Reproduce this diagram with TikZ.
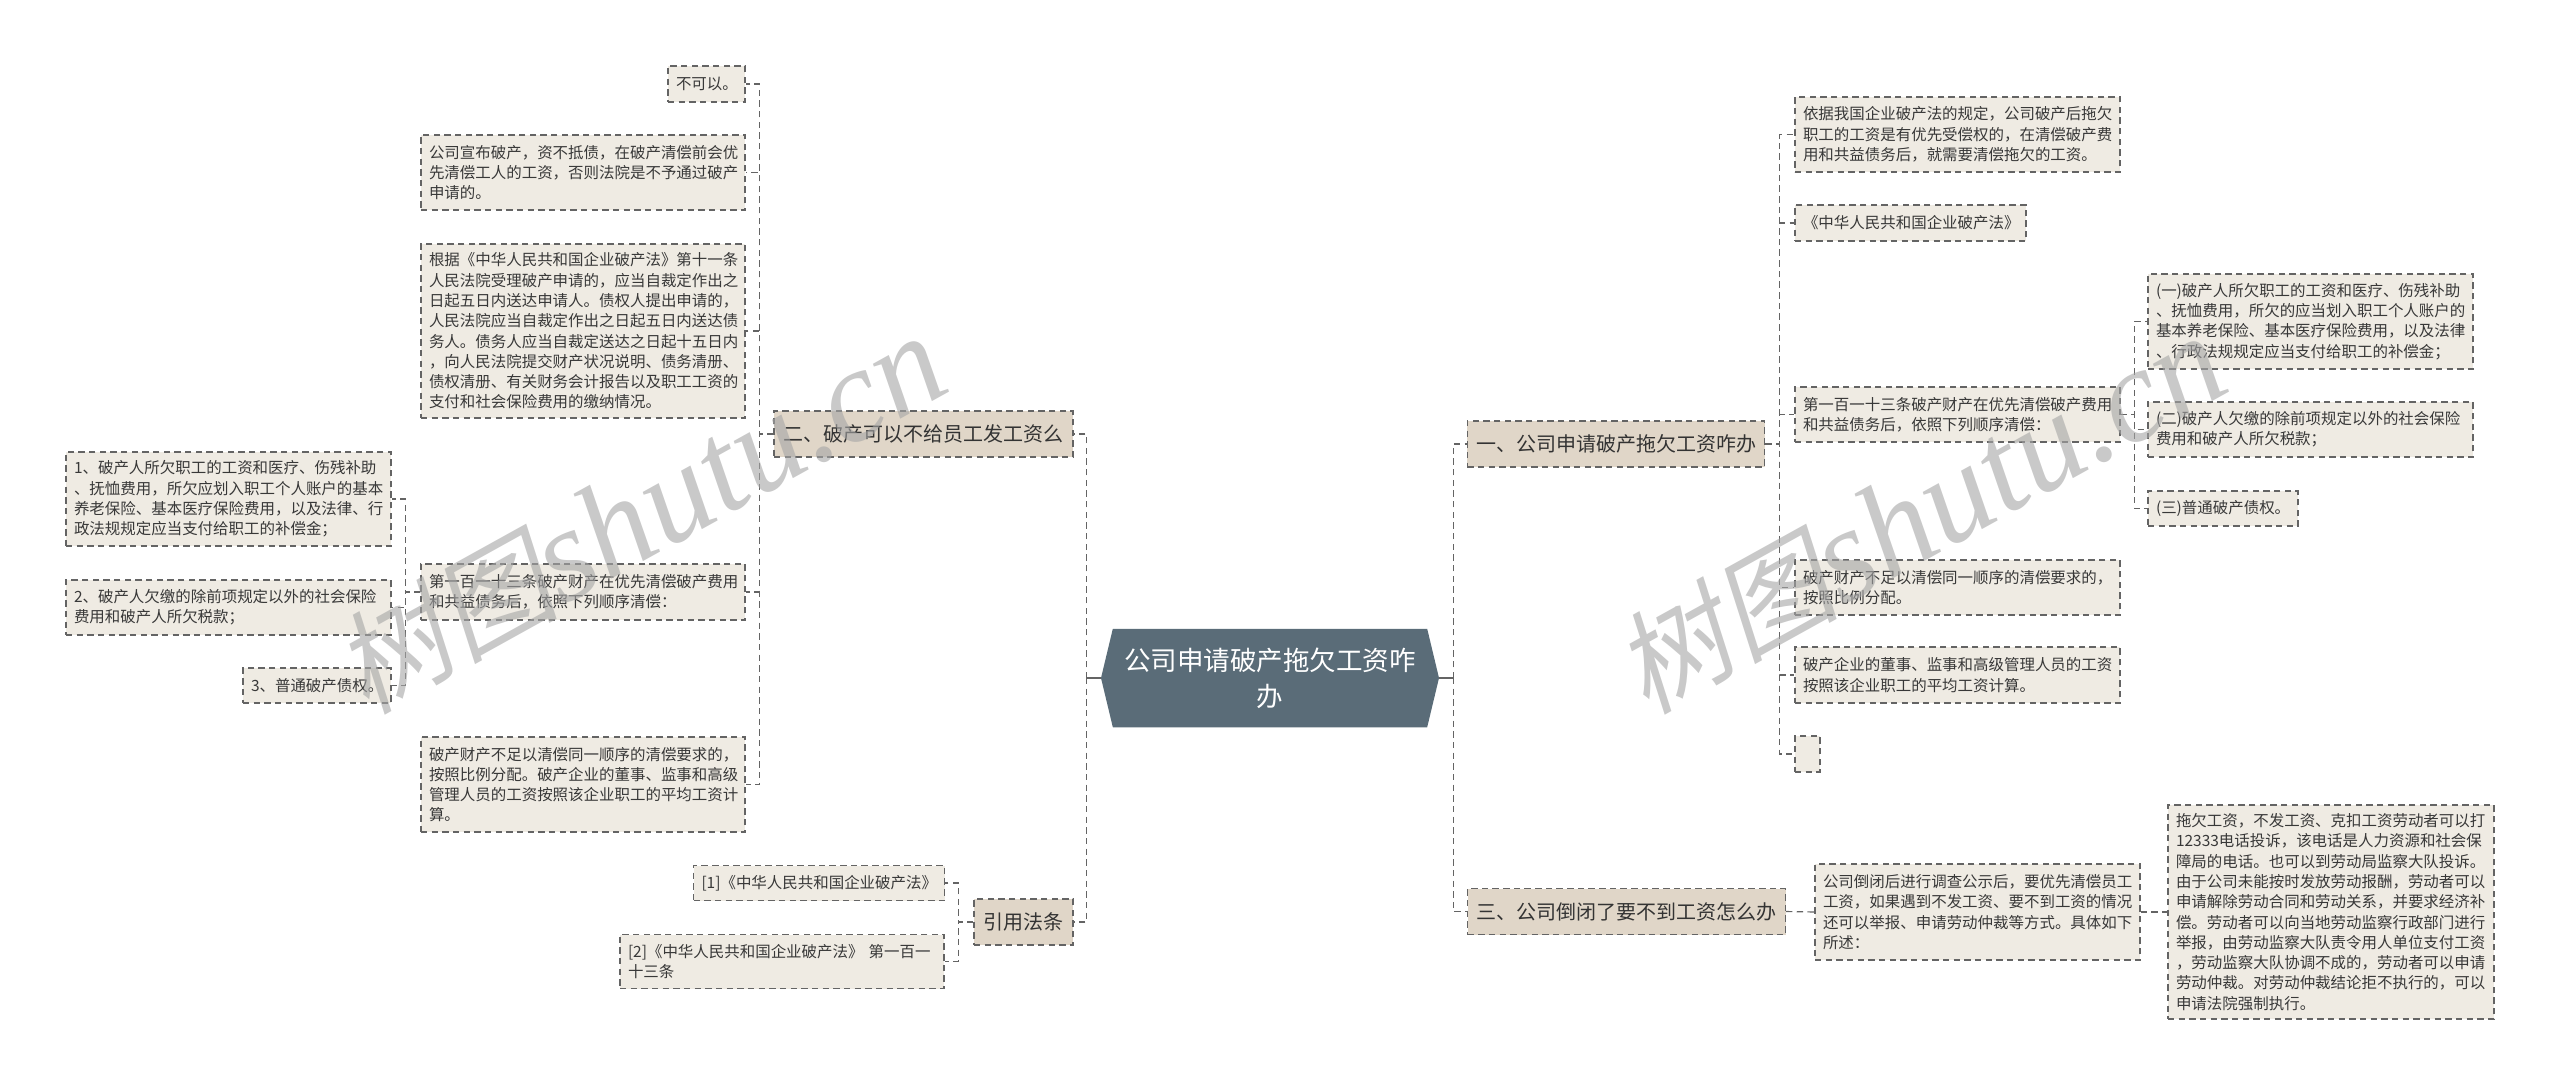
\documentclass[tikz,border=0pt]{standalone}
\usepackage{fontspec}
\setmainfont{Noto Sans CJK SC}
\newfontfamily\markcjk[FakeSlant=0.2]{Noto Sans CJK SC}
\newfontfamily\marklatin{Liberation Serif}
\usetikzlibrary{shapes.symbols}
\definecolor{rootfill}{RGB}{90,108,120}
\definecolor{branchfill}{RGB}{224,214,200}
\definecolor{leaffill}{RGB}{239,235,227}
\definecolor{linkcolor}{RGB}{100,100,100}
\definecolor{markcolor}{RGB}{165,165,165}
\def\px{0.75pt}
\tikzset{
	link/.style={draw=linkcolor, line width=0.85pt, dash pattern=on 4.8pt off 3.2pt},
	boxed/.style 2 args={link, minimum width=#1*\px, minimum height=#2*\px, inner sep=0pt},
	leaf/.style 2 args={boxed={#1}{#2}, fill=leaffill, text=black!78, text width=#1*\px-16*\px, align=left, font=\fontsize{11.6}{15.2}\selectfont},
	branch/.style 2 args={boxed={#1}{#2}, fill=branchfill, text=black!80, align=center, font=\fontsize{15}{20}\selectfont},
	rootbox/.style={signal, signal to=east and west, signal pointer angle=153, fill=rootfill, text=white, align=center, minimum width=338*\px, minimum height=98.5*\px, inner sep=0pt, font=\fontsize{19.9}{27}\selectfont},
	watermark/.style={text=markcolor, opacity=0.6, rotate=29, inner sep=0pt},
}
\begin{document}
\begin{tikzpicture}[x=0.75pt, y=-0.75pt]
	\useasboundingbox (0,0) rectangle (2560,1086);
	
	%root
	\node[rootbox] (root) at (1270,678) {公司申请破产拖欠工资咋\\办};
	\draw[linkcolor, line width=1.2pt] (root.west) -- ++(-14,0) coordinate (hubl);
	\draw[linkcolor, line width=1.2pt] (root.east) -- ++(14,0) coordinate (hubr);
	
	%left side
	\node[branch={299}{46}] (law) at (923.5,434) {二、破产可以不给员工发工资么};
	\node[branch={99}{46}] (cite) at (1023.5,922) {引用法条};
	
	\node[leaf={77}{36}] (lawa) at (706.5,84) {不可以。};
	\node[leaf={324}{75}] (lawb) at (583,172.5) {公司宣布破产，资不抵债，在破产清偿前会优\\先清偿工人的工资，否则法院是不予通过破产\\申请的。};
	\node[leaf={324}{174}] (lawc) at (583,331) {根据《中华人民共和国企业破产法》第十一条\\人民法院受理破产申请的，应当自裁定作出之\\日起五日内送达申请人。债权人提出申请的，\\人民法院应当自裁定作出之日起五日内送达债\\务人。债务人应当自裁定送达之日起十五日内\\，向人民法院提交财产状况说明、债务清册、\\债权清册、有关财务会计报告以及职工工资的\\支付和社会保险费用的缴纳情况。};
	\node[leaf={324}{56}] (lawd) at (583,592) {第一百一十三条破产财产在优先清偿破产费用\\和共益债务后，依照下列顺序清偿：};
	\node[leaf={324}{95}] (lawe) at (583,784.5) {破产财产不足以清偿同一顺序的清偿要求的，\\按照比例分配。破产企业的董事、监事和高级\\管理人员的工资按照该企业职工的平均工资计\\算。};
	
	\node[leaf={325}{94}] (orda) at (228.5,499) {1、破产人所欠职工的工资和医疗、伤残补助\\、抚恤费用，所欠应划入职工个人账户的基本\\养老保险、基本医疗保险费用，以及法律、行\\政法规规定应当支付给职工的补偿金；};
	\node[leaf={325}{55}] (ordb) at (228.5,607.5) {2、破产人欠缴的除前项规定以外的社会保险\\费用和破产人所欠税款；};
	\node[leaf={148}{35}] (ordc) at (317,685.5) {3、普通破产债权。};
	
	\node[leaf={251}{35}] (citea) at (819,883) {[1]《中华人民共和国企业破产法》};
	\node[leaf={324}{54}] (citeb) at (782,961.5) {[2]《中华人民共和国企业破产法》 第一百一\\十三条};
	
	%right side
	\node[branch={297.5}{46}] (apply) at (1616,444) {一、公司申请破产拖欠工资咋办};
	\node[branch={318}{46}] (close) at (1626.5,911.5) {三、公司倒闭了要不到工资怎么办};
	
	\node[leaf={325}{75}] (applya) at (1957.5,134.5) {依据我国企业破产法的规定，公司破产后拖欠\\职工的工资是有优先受偿权的，在清偿破产费\\用和共益债务后，就需要清偿拖欠的工资。};
	\node[leaf={231}{36}] (applyb) at (1910.5,223) {《中华人民共和国企业破产法》};
	\node[leaf={325}{55}] (applyc) at (1957.5,414.5) {第一百一十三条破产财产在优先清偿破产费用\\和共益债务后，依照下列顺序清偿：};
	\node[leaf={325}{55}] (applyd) at (1957.5,587.5) {破产财产不足以清偿同一顺序的清偿要求的，\\按照比例分配。};
	\node[leaf={325}{56}] (applye) at (1957.5,675) {破产企业的董事、监事和高级管理人员的工资\\按照该企业职工的平均工资计算。};
	\node[leaf={25}{36}] (applyf) at (1807.5,754) {};
	
	\node[leaf={325}{95}] (paya) at (2310.5,321.5) {(一)破产人所欠职工的工资和医疗、伤残补助\\、抚恤费用，所欠的应当划入职工个人账户的\\基本养老保险、基本医疗保险费用，以及法律\\、行政法规规定应当支付给职工的补偿金；};
	\node[leaf={325}{55}] (payb) at (2310.5,429.5) {(二)破产人欠缴的除前项规定以外的社会保险\\费用和破产人所欠税款；};
	\node[leaf={150}{35}] (payc) at (2223,508.5) {(三)普通破产债权。};
	
	\node[leaf={325}{96}] (closea) at (1977.5,912) {公司倒闭后进行调查公示后，要优先清偿员工\\工资，如果遇到不发工资、要不到工资的情况\\还可以举报、申请劳动仲裁等方式。具体如下\\所述：};
	\node[leaf={326}{214}] (closeb) at (2331,912) {拖欠工资，不发工资、克扣工资劳动者可以打\\12333电话投诉，该电话是人力资源和社会保\\障局的电话。也可以到劳动局监察大队投诉。\\由于公司未能按时发放劳动报酬，劳动者可以\\申请解除劳动合同和劳动关系，并要求经济补\\偿。劳动者可以向当地劳动监察行政部门进行\\举报，由劳动监察大队责令用人单位支付工资\\，劳动监察大队协调不成的，劳动者可以申请\\劳动仲裁。对劳动仲裁结论拒不执行的，可以\\申请法院强制执行。};
	
	%connectors
	\foreach \kid in {law, cite}{
		\draw[link] (hubl) |- (\kid.east);
	}
	\foreach \kid in {apply, close}{
		\draw[link] (hubr) |- (\kid.west);
	}
	\foreach \kid in {lawa, lawb, lawc, lawd, lawe}{
		\draw[link] (law.west) -- ++(-14,0) |- (\kid.east);
	}
	\foreach \kid in {orda, ordb, ordc}{
		\draw[link] (lawd.west) -- ++(-15,0) |- (\kid.east);
	}
	\foreach \kid in {citea, citeb}{
		\draw[link] (cite.west) -- ++(-15,0) |- (\kid.east);
	}
	\foreach \kid in {applya, applyb, applyc, applyd, applye, applyf}{
		\draw[link] (apply.east) -- ++(14.5,0) |- (\kid.west);
	}
	\foreach \kid in {paya, payb, payc}{
		\draw[link] (applyc.east) -- ++(13.5,0) |- (\kid.west);
	}
	\draw[link] (close.east) -- (closea.west);
	\draw[link] (closea.east) -- (closeb.west);
	
	%watermarks
	\node[watermark] (marka) at (640,515) {\fontsize{84}{84}\selectfont\markcjk 树图\marklatin\itshape\fontsize{100}{100}\selectfont shutu.cn};
	\node[watermark] (markb) at (1920,515) {\fontsize{84}{84}\selectfont\markcjk 树图\marklatin\itshape\fontsize{100}{100}\selectfont shutu.cn};
\end{tikzpicture}
\end{document}
